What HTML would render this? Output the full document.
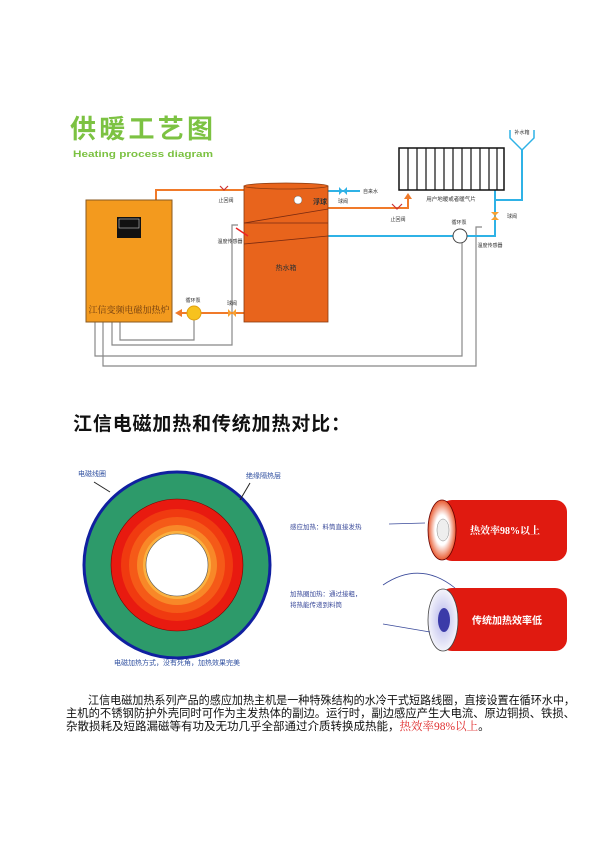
<!DOCTYPE html>
<html><head><meta charset="utf-8"><style>
body{margin:0;background:#fff;}
svg{display:block;font-family:"Liberation Sans","Noto Sans CJK SC",sans-serif;}
</style></head><body>
<svg width="600" height="848" viewBox="0 0 600 848" xmlns="http://www.w3.org/2000/svg">
<defs>
<radialGradient id="wg" cx="0.5" cy="0.5" r="0.5"><stop offset="0.5" stop-color="#fff"/><stop offset="1" stop-color="#e85a30"/></radialGradient>
<radialGradient id="bg" cx="0.5" cy="0.5" r="0.5"><stop offset="0.3" stop-color="#c8c8f0"/><stop offset="1" stop-color="#f4f4fb"/></radialGradient>
</defs>
<text x="70" y="138" font-size="26" font-weight="bold" fill="#7cc242" textLength="143">供暖工艺图</text>
<text x="73" y="157" font-size="9.5" font-weight="bold" fill="#7cc242" textLength="140" lengthAdjust="spacingAndGlyphs">Heating process diagram</text>

<!-- gray control lines -->
<g stroke="#888" stroke-width="1.2" fill="none">
<polyline points="120,322 120,340 194,340 194,320"/>
<polyline points="112,322 112,345 232,345 232,225 238,225"/>
<polyline points="95,322 95,356 462,356 462,243"/>
<polyline points="103,322 103,366 476,366 476,227 482,227"/>
</g>
<!-- orange pipes -->
<g stroke="#f07a2a" stroke-width="2" fill="none">
<polyline points="156,200 156,190 244,190"/>
<polyline points="328,208 408,208 408,197"/>
<line x1="244" y1="313" x2="180" y2="313"/>
</g>
<polygon points="404,199 412,199 408,193" fill="#f07a2a"/>
<polygon points="182,309 182,317 175,313" fill="#f07a2a"/>
<path d="M220,186 l4,4 l4,-4 M392,204 l5,5 l5,-5" stroke="#c33" stroke-width="1.2" fill="none"/>
<path d="M228,309 l8,8 v-8 l-8,8z" fill="#f7a030"/>
<!-- blue pipes -->
<g stroke="#2fb2e6" stroke-width="2" fill="none">
<line x1="328" y1="191" x2="360" y2="191"/>
<line x1="328" y1="236" x2="453" y2="236"/>
<polyline points="467,236 495,236 495,200 522,200 522,150"/>
<polyline points="495,200 495,190"/>
</g>
<path d="M339,187 l8,8 v-8 l-8,8z" fill="#2fb2e6"/>
<path d="M491,212 l8,0 l-8,8 h8z" fill="#f7a030"/>
<!-- boiler -->
<rect x="86" y="200" width="86" height="122" fill="#f39a1e" stroke="#8a5a20" stroke-width="1"/>
<rect x="117" y="217" width="24" height="21" fill="#111"/>
<rect x="119" y="219" width="20" height="9" fill="none" stroke="#ccc" stroke-width="0.6"/>
<text x="129" y="313" font-size="9" fill="#6b3a10" text-anchor="middle" font-family="Liberation Serif,Noto Serif CJK SC,serif">江信变频电磁加热炉</text>
<!-- pump -->
<circle cx="194" cy="313" r="7" fill="#f7c21e" stroke="#e0a010"/>
<text x="193" y="302" font-size="5" text-anchor="middle" fill="#333">循环泵</text>
<text x="232" y="305" font-size="5" text-anchor="middle" fill="#333">球阀</text>
<text x="226" y="202" font-size="5" text-anchor="middle" fill="#333">止回阀</text>
<text x="230" y="243" font-size="5" text-anchor="middle" fill="#333">温度传感器</text>
<!-- tank -->
<rect x="244" y="186" width="84" height="136" fill="#e8641c" stroke="#8a3a10" stroke-width="0.8"/>
<ellipse cx="286" cy="186" rx="42" ry="3" fill="#e8641c" stroke="#8a3a10" stroke-width="0.8"/>
<g stroke="#7a2a10" stroke-width="0.8"><line x1="244" y1="223" x2="328" y2="209"/><line x1="244" y1="223" x2="328" y2="223"/><line x1="244" y1="244" x2="328" y2="236"/></g>
<line x1="236" y1="228" x2="248" y2="236" stroke="#e22" stroke-width="1.5"/>
<circle cx="298" cy="200" r="4" fill="#fff" stroke="#666" stroke-width="0.5"/>
<text x="313" y="204" font-size="7" font-weight="bold" fill="#333">浮球</text>
<text x="286" y="270" font-size="7" text-anchor="middle" fill="#333">热水箱</text>
<text x="363" y="193" font-size="5" fill="#333">自来水</text>
<text x="343" y="203" font-size="5" text-anchor="middle" fill="#333">球阀</text>
<text x="398" y="221" font-size="5" text-anchor="middle" fill="#333">止回阀</text>
<!-- radiator -->
<rect x="399" y="148" width="105" height="42" fill="#fff" stroke="#111" stroke-width="1.5"/>
<g stroke="#111" stroke-width="1.2">
<line x1="408" y1="148" x2="408" y2="190"/><line x1="417" y1="148" x2="417" y2="190"/><line x1="426" y1="148" x2="426" y2="190"/><line x1="435" y1="148" x2="435" y2="190"/><line x1="444" y1="148" x2="444" y2="190"/><line x1="453" y1="148" x2="453" y2="190"/><line x1="462" y1="148" x2="462" y2="190"/><line x1="471" y1="148" x2="471" y2="190"/><line x1="480" y1="148" x2="480" y2="190"/><line x1="489" y1="148" x2="489" y2="190"/><line x1="497" y1="148" x2="497" y2="190"/>
</g>
<text x="451" y="201" font-size="5.5" text-anchor="middle" fill="#333">用户地暖或者暖气片</text>
<path d="M510,130 v8 l12,12 l12,-12 v-8" stroke="#2fb2e6" stroke-width="1.5" fill="none"/>
<text x="522" y="134" font-size="5" text-anchor="middle" fill="#333">补水箱</text>
<text x="507" y="218" font-size="5" fill="#333">球阀</text>
<circle cx="460" cy="236" r="7" fill="#fff" stroke="#444"/>
<text x="459" y="224" font-size="5" text-anchor="middle" fill="#333">循环泵</text>
<text x="490" y="247" font-size="5" text-anchor="middle" fill="#333">温度传感器</text>

<text x="73" y="430" font-size="19" font-weight="bold" fill="#111" textLength="277">江信电磁加热和传统加热对比：</text>
<!-- circle -->
<circle cx="177" cy="565" r="93" fill="#2d9a6a" stroke="#1020a0" stroke-width="3"/>
<circle cx="177" cy="565" r="66" fill="#e81a10" stroke="#700" stroke-width="0.6"/>
<circle cx="177" cy="565" r="56" fill="#f03a10"/>
<circle cx="177" cy="565" r="48" fill="#f55a18"/>
<circle cx="177" cy="565" r="40" fill="#f88828"/>
<circle cx="177" cy="565" r="34" fill="#fbb040"/>
<circle cx="177" cy="565" r="31" fill="#fff" stroke="#555" stroke-width="0.6"/>
<text x="78" y="476" font-size="7" fill="#3050a0">电磁线圈</text>
<text x="246" y="478" font-size="7" fill="#3050a0">绝缘隔热层</text>
<line x1="94" y1="482" x2="110" y2="492" stroke="#222"/>
<line x1="250" y1="483" x2="240" y2="500" stroke="#222"/>
<text x="177" y="665" font-size="7" text-anchor="middle" fill="#3050a0">电磁加热方式，没有死角，加热效果完美</text>
<!-- cylinders -->
<rect x="440" y="500" width="127" height="61" rx="12" fill="#e01a10"/>
<ellipse cx="442" cy="530" rx="14" ry="30" fill="url(#wg)" stroke="#600" stroke-width="0.8"/>
<ellipse cx="443" cy="530" rx="6" ry="11" fill="#eee" stroke="#888" stroke-width="0.5"/>
<text x="505" y="534" font-size="10" font-weight="bold" fill="#fff" text-anchor="middle" font-family="Liberation Serif,Noto Serif CJK SC,serif">热效率98%以上</text>
<rect x="440" y="588" width="127" height="63" rx="12" fill="#e01a10"/>
<ellipse cx="443" cy="620" rx="15" ry="31" fill="url(#bg)" stroke="#444" stroke-width="0.8"/>
<ellipse cx="444" cy="620" rx="6" ry="12" fill="#3a3aa8"/>
<text x="507" y="624" font-size="10" font-weight="bold" fill="#fff" text-anchor="middle">传统加热效率低</text>
<text x="290" y="529" font-size="6.5" fill="#3a4a9a">感应加热：料筒直接发热</text>
<text x="290" y="596" font-size="6.5" fill="#3a4a9a">加热圈加热：通过接粗，</text>
<text x="290" y="607" font-size="6.5" fill="#3a4a9a">将热能传递到料筒</text>
<g stroke="#3a4a9a" stroke-width="0.8" fill="none"><line x1="389" y1="524" x2="425" y2="523"/><path d="M383,585 Q420,560 455,588"/><line x1="383" y1="624" x2="430" y2="632"/></g>
<!-- paragraph -->
<g font-size="11.5" fill="#111">
<text x="88" y="704" textLength="487" lengthAdjust="spacingAndGlyphs">江信电磁加热系列产品的感应加热主机是一种特殊结构的水冷干式短路线圈，直接设置在循环水中，</text>
<text x="66" y="717" textLength="509" lengthAdjust="spacingAndGlyphs">主机的不锈钢防护外壳同时可作为主发热体的副边。运行时，副边感应产生大电流、原边铜损、铁损、</text>
<text x="66" y="730">杂散损耗及短路漏磁等有功及无功几乎全部通过介质转换成热能，<tspan fill="#e03030" font-family="Liberation Serif,Noto Serif CJK SC,serif">热效率98%以上</tspan>。</text>
</g>
</svg>
</body></html>
